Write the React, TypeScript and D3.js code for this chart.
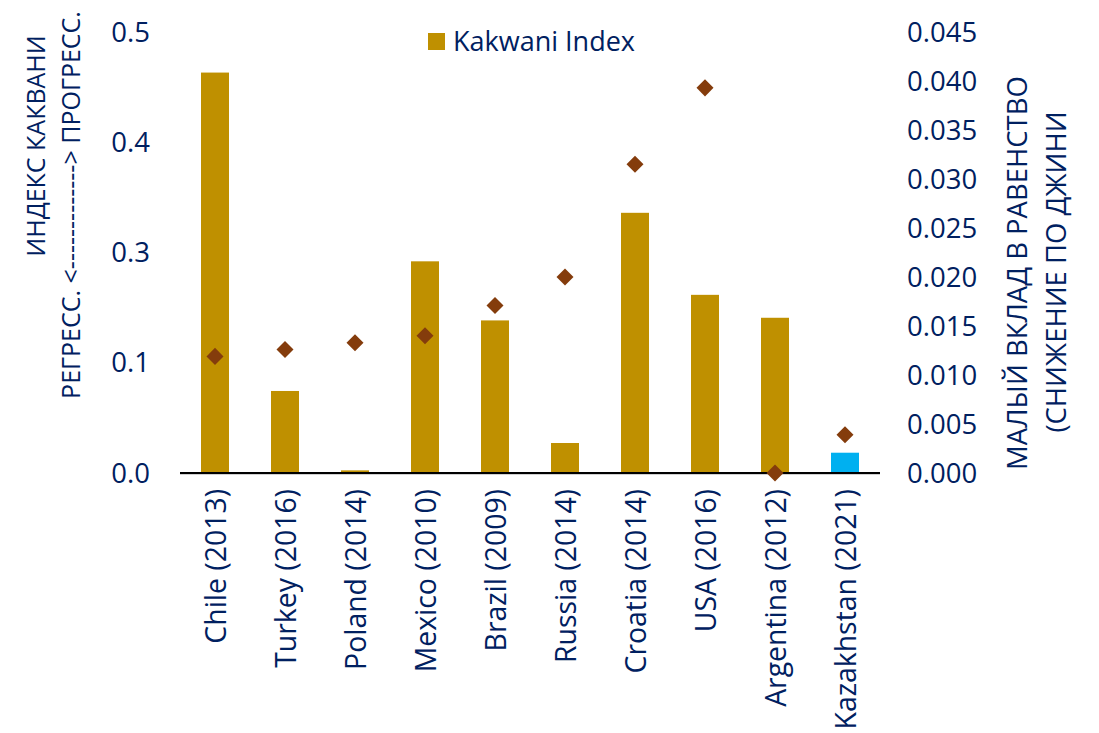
import React from "react";
import * as d3 from "d3";

// categories and values
const countries = [
  "Chile (2013)", "Turkey (2016)", "Poland (2014)", "Mexico (2010)", "Brazil (2009)",
  "Russia (2014)", "Croatia (2014)", "USA (2016)", "Argentina (2012)", "Kazakhstan (2021)",
];
const kakwani = [0.454, 0.093, 0.003, 0.240, 0.173, 0.034, 0.295, 0.202, 0.176, 0.023];
const giniDrop = [0.0119, 0.0126, 0.0133, 0.0140, 0.0171, 0.0200, 0.0315, 0.0393, 0.0, 0.0039];
const highlighted = ["Kazakhstan (2021)"];

// left axis runs in steps of 0.125, shown with one decimal
const leftTicks = [0, 0.125, 0.25, 0.375, 0.5];
const rightTicks = [0, 0.005, 0.01, 0.015, 0.02, 0.025, 0.03, 0.035, 0.04, 0.045];

const legendLabel = "Kakwani Index";
const leftTitle = ["ИНДЕКС КАКВАНИ", "РЕГРЕСС. <-------------> ПРОГРЕСС."];
const rightTitle = ["МАЛЫЙ ВКЛАД В РАВЕНСТВО", "(СНИЖЕНИЕ ПО ДЖИНИ"];

const W = 1099;
const H = 733;
const FONT = "'Open Sans', sans-serif";
const TEXT = "#002060";
const BAR = "#BF9000";
const BLUE = "#00B0F0";
const DIAMOND = "#843C0C";

export default function App() {
  const left = 180, right = 880, top = 32, bottom = 473;

  const x = d3.scaleBand().domain(countries).range([left, right]).paddingInner(0.6).paddingOuter(0.3);
  const yL = d3.scaleLinear().domain([0, 0.5]).range([bottom, top]);
  const yR = d3.scaleLinear().domain([0, 0.045]).range([bottom, top]);
  const fmtL = d3.format(".1f");
  const fmtR = d3.format(".3f");
  const diamond = d3.symbol().type(d3.symbolDiamond2).size(185);

  return (
    <svg width={W} height={H} style={{ position: "absolute", left: 0, top: 0, background: "#fff" }} fontFamily={FONT}>
      {/* bars */}
      {countries.map((c, i) => (
        <rect key={c} x={x(c)} width={x.bandwidth()} y={yL(kakwani[i])} height={yL(0) - yL(kakwani[i])}
          fill={highlighted.includes(c) ? BLUE : BAR} />
      ))}

      {/* baseline */}
      <line x1={left} x2={right} y1={bottom + 1.5} y2={bottom + 1.5} stroke="#d0d0d0" strokeWidth={1} />
      <line x1={left} x2={right} y1={bottom} y2={bottom} stroke="#000" strokeWidth={2} />

      {/* diamonds on right axis */}
      {countries.map((c, i) => (
        <path key={c} d={diamond() as string} fill={DIAMOND}
          transform={`translate(${x(c)! + x.bandwidth() / 2},${yR(giniDrop[i])})`} />
      ))}

      {/* left ticks */}
      {leftTicks.map((t) => (
        <text key={t} x={150} y={yL(t)} dy="0.35em" textAnchor="end" fontSize={27.5} fill={TEXT}>{fmtL(t)}</text>
      ))}

      {/* right ticks */}
      {rightTicks.map((t) => (
        <text key={t} x={907} y={yR(t)} dy="0.35em" textAnchor="start" fontSize={27.5} fill={TEXT}>{fmtR(t)}</text>
      ))}

      {/* category labels */}
      {countries.map((c) => (
        <text key={c} transform={`translate(${x(c)! + x.bandwidth() / 2 + 10.5},489) rotate(-90)`}
          textAnchor="end" fontSize={28.4} fill={TEXT}>{c}</text>
      ))}

      {/* axis titles */}
      <text transform="translate(45,146) rotate(-90)" textAnchor="middle" fontSize={25} fill={TEXT}>{leftTitle[0]}</text>
      <text transform="translate(80,205) rotate(-90)" textAnchor="middle" fontSize={25} fill={TEXT}>{leftTitle[1]}</text>
      <text transform="translate(1027,273) rotate(-90)" textAnchor="middle" fontSize={27.5} fill={TEXT}>{rightTitle[0]}</text>
      <text transform="translate(1066,272) rotate(-90)" textAnchor="middle" fontSize={27.5} fill={TEXT}>{rightTitle[1]}</text>

      {/* legend */}
      <rect x={428} y={33} width={17} height={17} fill={BAR} />
      <text x={453} y={42} dy="0.35em" fontSize={27} fill={TEXT}>{legendLabel}</text>
    </svg>
  );
}
